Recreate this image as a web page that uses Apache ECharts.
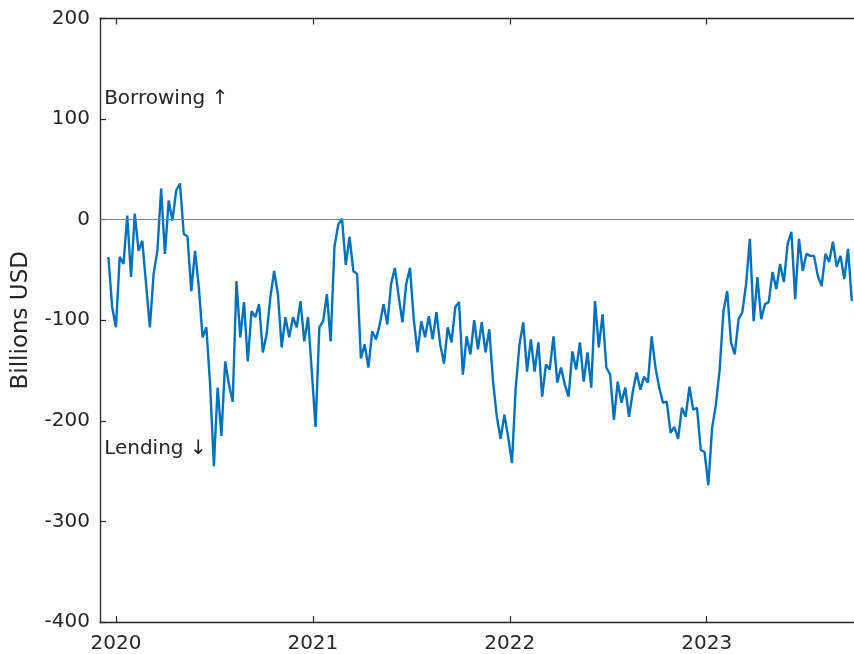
<!DOCTYPE html>
<html>
<head>
<meta charset="utf-8">
<title>Net position, billions USD</title>
<script src="https://cdn.jsdelivr.net/npm/echarts@6/dist/echarts.min.js"></script>
<style>
  html, body { margin: 0; padding: 0; background: #ffffff; }
  #c { width: 854px; height: 654px; }
</style>
</head>
<body>
<div id="c"></div>
<script>
// Weekly observations, first one on this date
const startDate = '2019-12-18';

// Net position in billions USD (positive = borrowing, negative = lending)
const netPosition = [
  -37, -87, -107, -37, -44, 4, -57, 6, -31, -21,
  -64, -107, -54, -31, 31, -34, 19, -1, 29, 36,
  -14, -17, -71, -31, -67, -117, -107, -164, -245, -167,
  -215, -141, -164, -181, -61, -117, -82, -141, -91, -97,
  -84, -132, -114, -77, -51, -74, -127, -97, -117, -97,
  -107, -81, -121, -97, -151, -206, -107, -101, -74, -121,
  -27, -5, 1, -45, -17, -51, -54, -138, -124, -147,
  -111, -119, -104, -84, -104, -64, -48, -76, -102, -64,
  -48, -99, -132, -101, -117, -96, -119, -92, -124, -143,
  -107, -122, -87, -82, -154, -116, -134, -100, -129, -102,
  -132, -109, -161, -196, -218, -194, -216, -242, -167, -124,
  -102, -151, -119, -151, -122, -176, -144, -149, -116, -162,
  -147, -164, -176, -131, -149, -122, -161, -132, -167, -81,
  -127, -94, -147, -154, -199, -161, -182, -167, -196, -171,
  -152, -169, -156, -162, -116, -147, -167, -182, -181, -212,
  -206, -218, -187, -196, -166, -189, -187, -229, -231, -264,
  -207, -184, -149, -91, -71, -122, -134, -99, -92, -64,
  -19, -101, -57, -99, -84, -82, -52, -69, -44, -62,
  -24, -12, -79, -19, -51, -34, -36, -36, -56, -66,
  -34, -42, -22, -47, -36, -59, -29, -81
];

// Axis settings
const yearTicks = [2020, 2021, 2022, 2023];
const yTicks = [-400, -300, -200, -100, 0, 100, 200];
const annotations = [
  { text: 'Borrowing \u2191', year: 2019.94, value: 120 },
  { text: 'Lending \u2193', year: 2019.94, value: -228 }
];

const X_MIN = 2019.919;
const X_MAX = 2023.748;

// Convert a UTC timestamp to a fractional year
function toDecimalYear(ms) {
  const d = new Date(ms);
  const y = d.getUTCFullYear();
  const y0 = Date.UTC(y, 0, 1);
  const y1 = Date.UTC(y + 1, 0, 1);
  return y + (ms - y0) / (y1 - y0);
}

const DAY = 86400000;
const t0 = Date.parse(startDate + 'T00:00:00Z');
const points = netPosition.map((v, i) => [toDecimalYear(t0 + i * 7 * DAY), v]);

const INK = '#262626';
const FONT = 'DejaVu Sans';

const chart = echarts.init(document.getElementById('c'), null, { renderer: 'canvas' });

const baseX = {
  type: 'value',
  min: X_MIN,
  max: X_MAX,
  splitLine: { show: false },
  axisLine: { show: true, onZero: false, lineStyle: { color: INK, width: 1.3 } },
  axisTick: { show: true, inside: true, length: 6, customValues: yearTicks, lineStyle: { color: INK, width: 1.2 } }
};

chart.setOption({
  animation: false,
  backgroundColor: '#ffffff',
  grid: { left: 100, right: 0, top: 18.5, bottom: 32, containLabel: false },
  xAxis: [
    Object.assign({}, baseX, {
      position: 'bottom',
      axisLabel: {
        customValues: yearTicks,
        formatter: v => String(Math.round(v)),
        color: INK, fontSize: 20, fontFamily: FONT, margin: 12
      }
    }),
    Object.assign({}, baseX, {
      position: 'top',
      axisLabel: { show: false }
    })
  ],
  yAxis: {
    type: 'value',
    min: yTicks[0],
    max: yTicks[yTicks.length - 1],
    interval: 100,
    name: 'Billions USD',
    nameLocation: 'middle',
    nameRotate: 90,
    nameGap: 67,
    nameTextStyle: { color: INK, fontSize: 23, fontFamily: FONT },
    splitLine: { show: false },
    axisLine: { show: true, onZero: false, lineStyle: { color: INK, width: 1.3 } },
    axisTick: { show: true, inside: true, length: 6, lineStyle: { color: INK, width: 1.2 } },
    axisLabel: { color: INK, fontSize: 20, fontFamily: FONT, margin: 10 }
  },
  series: [{
    type: 'line',
    data: points,
    showSymbol: false,
    symbol: 'none',
    lineStyle: { color: '#0072BD', width: 2.4 },
    markLine: {
      silent: true,
      symbol: ['none', 'none'],
      label: { show: false },
      lineStyle: { color: '#808080', width: 1.2, type: 'solid' },
      data: [{ yAxis: 0 }]
    },
    z: 3
  }]
});

// Place the direction notes at their data positions
const notes = annotations.map(a => {
  const p = chart.convertToPixel({ xAxisIndex: 0, yAxisIndex: 0 }, [a.year, a.value]);
  return {
    type: 'text',
    x: p[0],
    y: p[1],
    style: {
      text: a.text,
      fill: INK,
      font: '20px "' + FONT + '"',
      textAlign: 'left',
      textVerticalAlign: 'middle'
    },
    z: 10
  };
});
chart.setOption({ graphic: notes });
</script>
</body>
</html>
